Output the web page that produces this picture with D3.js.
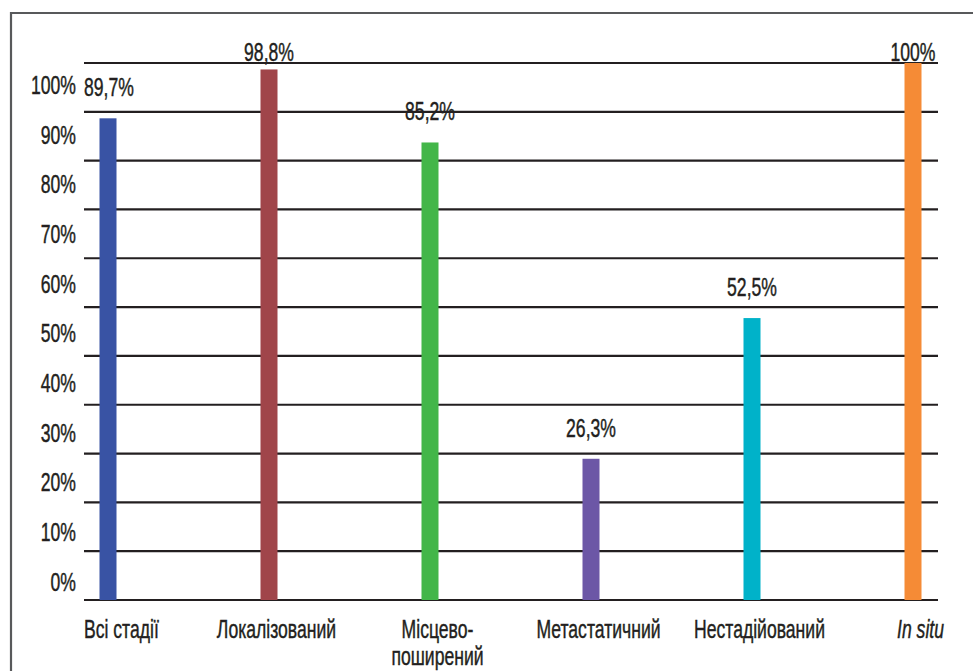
<!DOCTYPE html>
<html>
<head>
<meta charset="utf-8">
<script src="https://cdn.jsdelivr.net/npm/d3@7"></script>
<style>
  html, body { margin: 0; padding: 0; background: #fff; }
  svg { display: block; }
</style>
</head>
<body>
<svg id="chart" width="973" height="671"></svg>
<script>
// Survival by stage (%)
const categories = ["Всі стадії", "Локалізований", "Місцево-\nпоширений", "Метастатичний", "Нестадійований", "In situ"];
const values = [89.7, 98.8, 85.2, 26.3, 52.5, 100];
const valueLabels = ["89,7%", "98,8%", "85,2%", "26,3%", "52,5%", "100%"];
const colors = ["#3953a4", "#a0454a", "#43b649", "#6c57a6", "#00b2c9", "#f58b36"];
const italicCategories = ["In situ"];
const tickLabels = ["0%", "10%", "20%", "30%", "40%", "50%", "60%", "70%", "80%", "90%", "100%"];

const W = 973, H = 671;
const plot = { left: 84, right: 938, top: 63, bottom: 600 };
const ink = "#231f20";
const fontFamily = "'Liberation Sans Narrow', 'Liberation Sans', Arial, sans-serif";
const fontSize = 26;

const svg = d3.select("#chart");

// Frame around the figure (runs off the right and bottom edges)
svg.append("path")
  .attr("d", `M11,${H + 5}V13H${W + 5}`)
  .attr("fill", "none")
  .attr("stroke", "#58595b")
  .attr("stroke-width", 2.2);

const y = d3.scaleLinear().domain([0, 100]).range([plot.bottom, plot.top]);
const x = d3.scalePoint().domain(categories).range([108, 913]);
const labelY = d3.scalePoint().domain(tickLabels).range([581, 84]);

// Work out a horizontal squeeze so the narrow face reads like a condensed one
const probe = svg.append("text").attr("font-family", fontFamily).attr("font-size", fontSize).text("100%");
const probeW = probe.node().getComputedTextLength();
probe.remove();
const squeeze = 45 / probeW;

function squeezedText(parent, tx, ty, str, anchor, italic) {
  const g = parent.append("g").attr("transform", `translate(${tx},${ty}) scale(${squeeze},1)`);
  const t = g.append("text")
    .attr("font-family", fontFamily)
    .attr("font-size", fontSize)
    .attr("font-style", italic ? "italic" : "normal")
    .attr("fill", ink)
    .attr("stroke", ink)
    .attr("stroke-width", 0.45)
    .attr("text-anchor", anchor)
    .text(str);
  return { g, t };
}

// Horizontal rules: 12 evenly spaced lines between the baseline and the top
const gridVals = d3.range(12).map(i => i * 100 / 11);
svg.append("g").selectAll("line")
  .data(gridVals)
  .join("line")
  .attr("x1", plot.left).attr("x2", plot.right)
  .attr("y1", d => y(d)).attr("y2", d => y(d))
  .attr("stroke", ink)
  .attr("stroke-width", 2.2);

// Y tick labels sit between the rules
const yAxis = d3.axisLeft(labelY).tickSize(0).tickPadding(0);
const yg = svg.append("g").attr("transform", "translate(76,0)").call(yAxis);
yg.select(".domain").remove();
yg.selectAll(".tick text").each(function(d) {
  const tick = d3.select(this.parentNode);
  d3.select(this).remove();
  const { t } = squeezedText(tick, 0, 0, d, "end", false);
  t.attr("dy", "0.36em");
});

// Bars
const barW = 17;
svg.append("g").selectAll("rect")
  .data(values)
  .join("rect")
  .attr("x", (d, i) => x(categories[i]) - barW / 2)
  .attr("width", barW)
  .attr("y", d => y(d))
  .attr("height", d => y(0) - y(d))
  .attr("fill", (d, i) => colors[i]);

// Value labels above bars, kept inside the plot
const vg = svg.append("g");
values.forEach((v, i) => {
  const cx = x(categories[i]);
  const by = Math.max(plot.top - 2, y(v) - 22);
  const { g, t } = squeezedText(vg, cx, by, valueLabels[i], "middle", false);
  const w = t.node().getComputedTextLength() * squeeze;
  const left = cx - w / 2;
  if (left < plot.left) g.attr("transform", `translate(${plot.left + w / 2},${by}) scale(${squeeze},1)`);
});

// Category labels under the baseline
const cg = svg.append("g");
categories.forEach((c, i) => {
  const cx = x(c) + 7.5;
  const lines = c.split("\n");
  const italic = italicCategories.includes(c);
  const { g, t } = squeezedText(cg, cx, 638, "", "middle", italic);
  lines.forEach((ln, k) => {
    t.append("tspan").attr("x", 0).attr("dy", k === 0 ? 0 : 27).text(ln);
  });
  const w = d3.max(t.selectAll("tspan").nodes(), n => n.getComputedTextLength()) * squeeze;
  if (cx - w / 2 < plot.left) g.attr("transform", `translate(${plot.left + w / 2},638) scale(${squeeze},1)`);
});
</script>
</body>
</html>
